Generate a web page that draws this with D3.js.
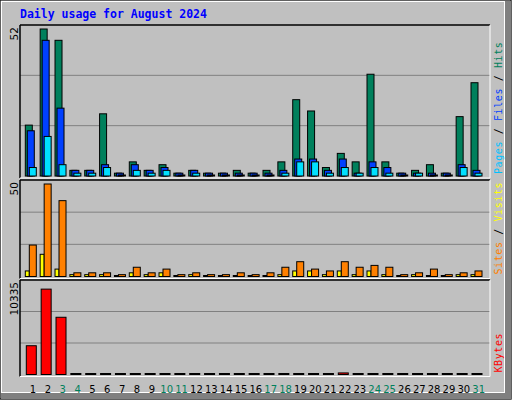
<!DOCTYPE html><html><head><meta charset="utf-8">
<script src="https://d3js.org/d3.v7.min.js"></script>
<style>body{margin:0;background:#fff}</style></head><body>
<script>
const days=d3.range(1,32);
const weekend=[3,4,10,11,17,18,24,25,31];
const hits=[18,52,48,2,2,22,1,5,2,4,1,2,1,1,2,1,2,5,27,23,3,8,5,36,5,1,2,4,1,21,33];
const files=[16,48,24,2,2,4,1,4,2,3,1,2,1,1,1,1,1,2,6,6,2,6,1,5,3,1,1,1,1,4,2];
const pages=[3,14,4,1,1,3,0,2,1,2,0,1,0,0,0,0,0,1,5,5,1,3,1,3,1,0,1,0,0,3,1];
const visits=[3,12,4,1,1,1,0,2,1,2,0,1,0,0,0,0,0,1,3,3,1,3,1,3,1,0,1,0,0,1,1];
const sites=[17,50,41,2,2,2,1,5,2,4,1,2,1,1,2,1,2,5,8,4,3,8,5,6,5,1,2,4,1,2,3];
const kbytes=[3483,10335,6928,0,0,0,0,0,0,0,0,0,0,0,0,0,0,0,0,0,0,190,0,0,0,0,0,0,0,0,0];

const W=512,H=400;
const svg=d3.select("body").append("svg").attr("width",W).attr("height",H);
svg.append("rect").attr("width",W).attr("height",H).attr("fill","#c0c0c0");
svg.append("rect").attr("x",0).attr("y",0).attr("width",W-1).attr("height",H-1).attr("fill","none").attr("stroke","#000");
svg.append("rect").attr("x",1.5).attr("y",1.5).attr("width",W-9).attr("height",H-9).attr("fill","none").attr("stroke","#fff");
svg.append("rect").attr("x",W-7).attr("y",1).attr("width",6).attr("height",H-2).attr("fill","#808080");
svg.append("rect").attr("x",1).attr("y",H-7).attr("width",W-2).attr("height",6).attr("fill","#808080");
svg.append("text").attr("x",20).attr("y",18).text("Daily usage for August 2024")
 .attr("font-family","DejaVu Sans Mono").attr("font-weight","bold").attr("font-size",11.5).attr("fill","#0000ff");

const L=20,R=490;
const x=d3.scaleLinear().domain([1,31]).range([33,478.7]);
function panel(top,bottom,max,label,series,legend){
  const y=d3.scaleLinear().domain([0,max]).range([bottom,top+4]);
  const g=svg.append("g");
  [1,2].forEach(i=>{const gy=bottom-(bottom-top)*i/3;
    g.append("line").attr("x1",L).attr("x2",R).attr("y1",gy).attr("y2",gy).attr("stroke","#808080");});
  g.append("line").attr("x1",L).attr("x2",L).attr("y1",top).attr("y2",bottom+2).attr("stroke","#000").attr("stroke-width",1.5);
  g.append("line").attr("x1",L).attr("x2",R).attr("y1",top).attr("y2",top).attr("stroke","#000").attr("stroke-width",1.5);
  g.append("line").attr("x1",R).attr("x2",R).attr("y1",top).attr("y2",bottom+2).attr("stroke","#fff");
  g.append("line").attr("x1",L).attr("x2",R).attr("y1",bottom+2).attr("y2",bottom+2).attr("stroke","#fff");
  series.forEach(s=>{
    g.selectAll(null).data(s.data).enter().append("rect")
     .attr("x",(d,i)=>x(days[i])+s.off).attr("width",s.w)
     .attr("y",d=>Math.min(y(d),bottom-1)).attr("height",d=>Math.max(bottom-y(d),1))
     .attr("fill",s.color).attr("stroke","#000").attr("stroke-width",1);
  });
  g.append("text").attr("transform",`translate(18,${top+2}) rotate(-90)`).attr("text-anchor","end")
   .attr("font-family","DejaVu Sans").attr("font-size",10.5).text(label);
  const t=g.append("text").attr("transform",`translate(502,${bottom-2}) rotate(-90)`)
   .attr("font-family","DejaVu Sans Mono").attr("font-size",10).attr("letter-spacing",0.6);
  legend.forEach((l,i)=>{ if(i) t.append("tspan").attr("fill","#000").text(" / ");
    t.append("tspan").attr("fill",l[1]).text(l[0]);});
}
panel(25,176,52,"52",[
 {data:hits,off:-7.7,w:7,color:"#00805c"},
 {data:files,off:-5.7,w:7,color:"#0040ff"},
 {data:pages,off:-3.7,w:7,color:"#00e0ff"}],
 [["Pages","#00c0ff"],["Files","#0040ff"],["Hits","#00805c"]]);
panel(180,276.5,50,"50",[
 {data:visits,off:-7.7,w:4,color:"#ffff00"},
 {data:sites,off:-3.7,w:7,color:"#ff8000"}],
 [["Sites","#ff8000"],["Visits","#ffff00"]]);
panel(280,374.5,10335*1.06,"10335",[
 {data:kbytes,off:-6.7,w:10,color:"#ff0000"}],
 [["KBytes","#ff0000"]]);
svg.selectAll(".xl").data(days).enter().append("text")
 .attr("x",d=>x(d)).attr("y",393).attr("text-anchor","middle")
 .attr("font-family","DejaVu Sans").attr("font-size",10)
 .attr("fill",d=>weekend.includes(d)?"#00805c":"#000").text(d=>d);
</script></body></html>
